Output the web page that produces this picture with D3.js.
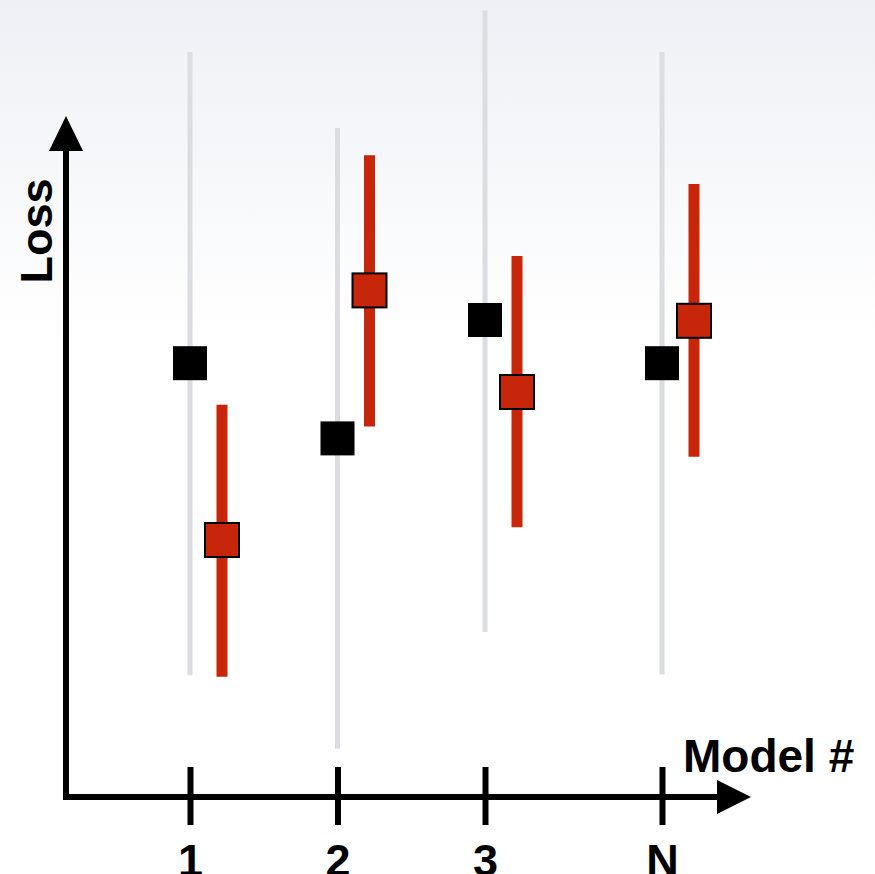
<!DOCTYPE html>
<html>
<head>
<meta charset="utf-8">
<script src="https://cdn.jsdelivr.net/npm/d3@7"></script>
<style>
  body { margin: 0; background: #fff; }
  text { font-family: "Liberation Sans", Arial, sans-serif; font-weight: bold; }
</style>
</head>
<body>
<script>
// model labels and where they sit along the x axis (N is set apart)
var categories = ["1", "2", "3", "N"];
var slots = [1, 2, 3, 4.2];

// baseline (black) loss and its range
var baseValue = [54.6, 45.2, 60.0, 54.6];
var baseLow = [15.6, 6.4, 21.0, 15.7];
var baseHigh = [93.5, 84.0, 98.7, 93.5];

// model (red) loss and its error bar
var modelValue = [32.5, 63.7, 51.0, 59.9];
var modelLow = [15.4, 46.7, 34.1, 42.9];
var modelHigh = [49.4, 80.6, 68.0, 77.0];

var w = 875, h = 874;

var svg = d3.select("body")
    .append("svg")
    .attr("width", w)
    .attr("height", h);

// faint bluish wash at the top
var grad = svg.append("defs").append("linearGradient")
    .attr("id", "bg")
    .attr("x1", 0).attr("y1", 0).attr("x2", 0).attr("y2", 1);
grad.append("stop").attr("offset", "0%").attr("stop-color", "#eef0f5");
grad.append("stop").attr("offset", "38%").attr("stop-color", "#ffffff");
grad.append("stop").attr("offset", "100%").attr("stop-color", "#ffffff");
svg.append("rect")
    .attr("width", w)
    .attr("height", h)
    .attr("fill", "url(#bg)");

var x = d3.scaleLinear()
    .domain([1, 4.2])
    .range([190, 662]);

var y = d3.scaleLinear()
    .domain([0, 100])
    .range([800, 0]);

var redOffset = 32; // red marker sits right of the black one
var sq = 34;

var rows = categories.map(function(c, i){
    return {
        cat: c, slot: slots[i],
        base: baseValue[i], baseLo: baseLow[i], baseHi: baseHigh[i],
        model: modelValue[i], modelLo: modelLow[i], modelHi: modelHigh[i]
    };
});

// gray range lines
svg.selectAll(".range")
    .data(rows)
    .enter()
    .append("line")
    .attr("class", "range")
    .attr("x1", function(d){ return x(d.slot); })
    .attr("x2", function(d){ return x(d.slot); })
    .attr("y1", function(d){ return y(d.baseLo); })
    .attr("y2", function(d){ return y(d.baseHi); })
    .style("stroke", "#dcdde0")
    .style("stroke-width", 5);

// black squares
svg.selectAll(".base")
    .data(rows)
    .enter()
    .append("rect")
    .attr("class", "base")
    .attr("x", function(d){ return x(d.slot) - sq / 2; })
    .attr("y", function(d){ return y(d.base) - sq / 2; })
    .attr("width", sq)
    .attr("height", sq)
    .style("fill", "#000");

// red error bars
svg.selectAll(".err")
    .data(rows)
    .enter()
    .append("line")
    .attr("class", "err")
    .attr("x1", function(d){ return x(d.slot) + redOffset; })
    .attr("x2", function(d){ return x(d.slot) + redOffset; })
    .attr("y1", function(d){ return y(d.modelLo); })
    .attr("y2", function(d){ return y(d.modelHi); })
    .style("stroke", "#c8260a")
    .style("stroke-width", 11);

// red squares
svg.selectAll(".model")
    .data(rows)
    .enter()
    .append("rect")
    .attr("class", "model")
    .attr("x", function(d){ return x(d.slot) + redOffset - sq / 2; })
    .attr("y", function(d){ return y(d.model) - sq / 2; })
    .attr("width", sq)
    .attr("height", sq)
    .style("fill", "#c8260a")
    .style("stroke", "#000")
    .style("stroke-width", 2);

// axes
var x0 = 66, y0 = 797;

svg.append("line")
    .attr("x1", x0).attr("y1", y0 + 3)
    .attr("x2", x0).attr("y2", 140)
    .style("stroke", "#000")
    .style("stroke-width", 6);
svg.append("path")
    .attr("d", "M" + x0 + ",116 L" + (x0 - 17) + ",151 L" + (x0 + 17) + ",151 Z")
    .style("fill", "#000");

svg.append("line")
    .attr("x1", x0 - 3).attr("y1", y0)
    .attr("x2", 728).attr("y2", y0)
    .style("stroke", "#000")
    .style("stroke-width", 6);
svg.append("path")
    .attr("d", "M751," + y0 + " L717," + (y0 - 17) + " L717," + (y0 + 17) + " Z")
    .style("fill", "#000");

var xAxis = d3.axisBottom(x)
    .tickValues(slots)
    .tickFormat(function(d, i){ return categories[i]; })
    .tickSize(29);

var axis = svg.append("g")
    .attr("class", "axis")
    .attr("transform", "translate(0," + y0 + ")")
    .call(xAxis);

axis.select(".domain").remove();
axis.selectAll(".tick line")
    .attr("y1", -30)
    .attr("y2", 28)
    .style("stroke", "#000")
    .style("stroke-width", 6);
axis.selectAll(".tick text")
    .attr("y", 79)
    .attr("dy", 0)
    .style("font-size", "45px")
    .style("font-family", "Liberation Sans, Arial, sans-serif")
    .style("font-weight", "bold")
    .style("fill", "#000");

svg.append("text")
    .attr("x", 683)
    .attr("y", 772)
    .style("font-size", "46px")
    .text("Model #");

svg.append("text")
    .attr("transform", "translate(52,231) rotate(-90)")
    .attr("text-anchor", "middle")
    .style("font-size", "45px")
    .text("Loss");
</script>
</body>
</html>
